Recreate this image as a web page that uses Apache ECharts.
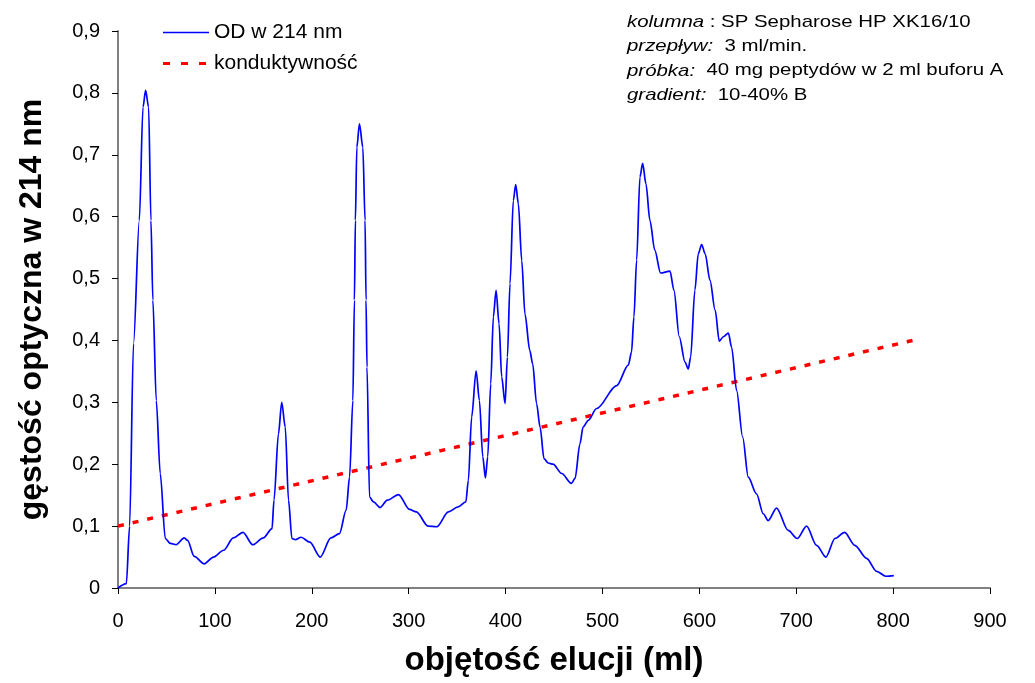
<!DOCTYPE html>
<html><head><meta charset="utf-8">
<script src="https://cdn.jsdelivr.net/npm/echarts@6/dist/echarts.min.js"></script>
<style>html,body{margin:0;padding:0;background:#fff}#c{width:1035px;height:683px}</style>
</head><body><div id="c"></div>
<script>
// elution volume (ml) for OD trace
const odVolume = [0, 8.6, 12, 16, 22, 25.8, 28.5, 31.6, 34, 36, 39.5, 43.6, 48.8, 54, 60, 68.4, 71.8, 78.7, 89, 98.6, 109, 119, 129, 139, 150, 159, 161, 165.6, 169, 172.6, 176, 179.5, 183, 189, 198, 208.7, 219.7, 228.6, 235.5, 239, 242.4, 244, 245, 246.5, 249.2, 252.7, 255, 256, 257, 259.6, 263.7, 270.5, 278, 289.5, 300.8, 308, 320, 329, 341, 351, 359, 361.6, 365, 369.6, 373, 376.5, 379.2, 381.6, 384.7, 387.4, 390.2, 393.3, 396, 399.5, 401.9, 404.6, 408, 410.5, 413.2, 416.7, 420, 425, 428, 432, 435.6, 439.7, 444, 449, 458, 468, 471.7, 476.8, 480, 485.4, 494, 514.7, 526.7, 530, 532.5, 535.3, 538.7, 541.5, 544.9, 549, 554, 560, 569.7, 573.8, 579.3, 585.2, 588.6, 591, 595.4, 598.9, 602.4, 606, 611, 616.3, 620.6, 624.8, 630, 633.3, 638.5, 644.7, 650.5, 659, 666, 671, 679.7, 691.7, 701, 710.7, 721, 730.6, 740, 750, 760.5, 772.6, 783, 792.5, 800.7];
// optical density at 214 nm
const odValues = [0, 0.007, 0.1, 0.395, 0.594, 0.777, 0.804, 0.777, 0.594, 0.465, 0.303, 0.185, 0.08, 0.072, 0.07, 0.081, 0.077, 0.051, 0.039, 0.05, 0.061, 0.081, 0.09, 0.07, 0.081, 0.096, 0.142, 0.249, 0.3, 0.26, 0.142, 0.08, 0.078, 0.082, 0.074, 0.05, 0.081, 0.088, 0.126, 0.179, 0.303, 0.465, 0.594, 0.712, 0.75, 0.712, 0.594, 0.465, 0.357, 0.147, 0.139, 0.13, 0.142, 0.151, 0.127, 0.123, 0.1, 0.099, 0.123, 0.131, 0.139, 0.174, 0.276, 0.351, 0.303, 0.212, 0.178, 0.212, 0.33, 0.438, 0.481, 0.427, 0.341, 0.298, 0.373, 0.492, 0.626, 0.652, 0.621, 0.529, 0.443, 0.384, 0.362, 0.298, 0.26, 0.209, 0.202, 0.2, 0.185, 0.169, 0.177, 0.233, 0.26, 0.271, 0.29, 0.327, 0.36, 0.381, 0.438, 0.53, 0.664, 0.686, 0.653, 0.594, 0.546, 0.509, 0.512, 0.481, 0.406, 0.365, 0.354, 0.373, 0.481, 0.54, 0.555, 0.54, 0.497, 0.449, 0.399, 0.406, 0.412, 0.389, 0.319, 0.244, 0.179, 0.152, 0.12, 0.109, 0.129, 0.093, 0.08, 0.1, 0.069, 0.05, 0.08, 0.09, 0.069, 0.048, 0.027, 0.019, 0.02];
// conductivity (plotted on same scale)
const condVolume = [0, 820];
const condValues = [0.1, 0.4];
const xTicks = {min: 0, max: 900, interval: 100};
const yTicks = {min: 0, max: 0.9, interval: 0.1};
const infoLines = [
  ['kolumna', ' : SP Sepharose HP XK16/10'],
  ['przepływ:', '  3 ml/min.'],
  ['próbka:', '  40 mg peptydów w 2 ml buforu A'],
  ['gradient:', '  10-40% B']
];

const FONT = 'Liberation Sans, Arial, sans-serif';
const chart = echarts.init(document.getElementById('c'), null, {renderer: 'canvas'});
const od = odVolume.map((v, i) => [v, odValues[i]]);
const cond = condVolume.map((v, i) => [v, condValues[i]]);

const solidIcon = 'path://M0,1.2h46v1.6h-46z M0,0h0.01v4h-0.01z';
const dashIcon = 'path://M0,0.5h7v3h-7z M18,0.5h7v3h-7z M36,0.5h7v3h-7z M0,0h0.01v4h-0.01z M45.99,0h0.01v4h-0.01z';

chart.setOption({
  animation: false,
  backgroundColor: '#fff',
  grid: {left: 118, right: 45, top: 31, bottom: 95, containLabel: false},
  legend: {
    orient: 'vertical', left: 158, top: 17, itemWidth: 46, itemHeight: 4, itemGap: 10,
    textStyle: {fontFamily: FONT, fontSize: 21, color: '#000'},
    data: [{name: 'OD w 214 nm', icon: solidIcon}, {name: 'konduktywność', icon: dashIcon}]
  },
  xAxis: {
    type: 'value', min: xTicks.min, max: xTicks.max, interval: xTicks.interval,
    name: 'objętość elucji (ml)', nameLocation: 'middle', nameGap: 56,
    nameTextStyle: {fontFamily: FONT, fontSize: 33, fontWeight: 'bold', color: '#000'},
    axisLine: {lineStyle: {color: '#808080', width: 2}},
    axisTick: {show: true, length: 6, lineStyle: {color: '#000', width: 1}},
    axisLabel: {fontFamily: FONT, fontSize: 20, color: '#000', margin: 23},
    splitLine: {show: false}
  },
  yAxis: {
    type: 'value', min: yTicks.min, max: yTicks.max, interval: yTicks.interval,
    name: 'gęstość optyczna w 214 nm', nameLocation: 'middle', nameGap: 70,
    nameTextStyle: {fontFamily: FONT, fontSize: 32, fontWeight: 'bold', color: '#000'},
    axisLine: {show: true, lineStyle: {color: '#808080', width: 2}},
    axisTick: {show: true, length: 6, lineStyle: {color: '#000', width: 1}},
    axisLabel: {fontFamily: FONT, fontSize: 20, color: '#000', margin: 18,
      formatter: v => (Math.round(v * 10) / 10).toString().replace('.', ',')},
    splitLine: {show: false}
  },
  series: [
    {name: 'OD w 214 nm', type: 'line', data: od, showSymbol: false, symbol: 'none',
     smooth: 0.3, smoothMonotone: 'x',
     lineStyle: {color: '#0000ff', width: 1.7}, itemStyle: {color: '#0000ff'}, z: 3},
    {name: 'konduktywność', type: 'line', data: cond, showSymbol: false, symbol: 'none',
     lineStyle: {color: '#ff0000', width: 3.5, type: [6, 9]}, itemStyle: {color: '#ff0000'}, z: 2}
  ],
  graphic: infoLines.map((l, i) => ({
    type: 'text', x: 627, y: 22 + i * 24.4, scaleX: 1.2,
    style: {
      x: 0, y: 0, verticalAlign: 'middle', align: 'left',
      text: '{i|' + l[0] + '}{n|' + l[1] + '}',
      rich: {
        i: {fontFamily: FONT, fontSize: 17, fontStyle: 'italic', fill: '#000'},
        n: {fontFamily: FONT, fontSize: 17, fill: '#000'}
      }
    }
  }))
});
</script></body></html>
